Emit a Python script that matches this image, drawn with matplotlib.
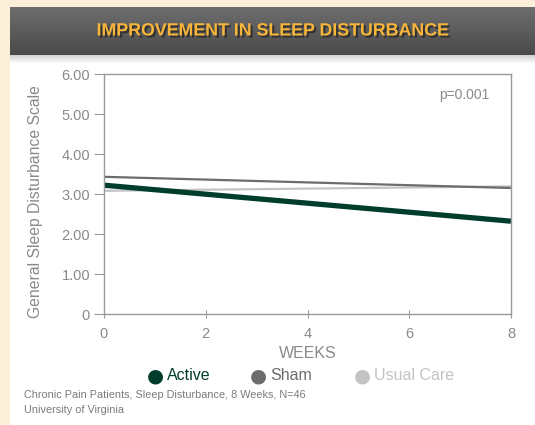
import matplotlib
matplotlib.use("Agg")
import matplotlib.pyplot as plt
import matplotlib.patheffects as pe
import numpy as np

# data
weeks = [0, 8]
active = [3.22, 2.32]
sham = [3.43, 3.15]
usual_care = [3.08, 3.19]

series_names = ["Active", "Sham", "Usual Care"]
series_colors = ["#013d2c", "#6c6c6e", "#c3c3c5"]
series_widths = [3.8, 1.6, 1.6]

x_ticks = [0, 2, 4, 6, 8]
y_ticks = [0, 1, 2, 3, 4, 5, 6]
y_tick_labels = ["0", "1.00", "2.00", "3.00", "4.00", "5.00", "6.00"]

W, H = 535, 425
plt.rcParams['font.family'] = ['Liberation Sans Narrow', 'Liberation Sans', 'DejaVu Sans']

fig = plt.figure(figsize=(W / 100, H / 100), dpi=100)
fig.patch.set_facecolor("#fcefd9")


def px_rect(x0, y0, x1, y1):
    # convert pixel box (top-left origin) to figure fraction rect
    return [x0 / W, 1 - y1 / H, (x1 - x0) / W, (y1 - y0) / H]


# white panel
panel = fig.add_axes(px_rect(10, 7, W, H))
panel.set_facecolor("white")
panel.set_xticks([])
panel.set_yticks([])
for s in panel.spines.values():
    s.set_visible(False)

# shadow under banner
shadow = fig.add_axes(px_rect(10, 55, W, 64))
grad_s = np.linspace(0.82, 1.0, 20).reshape(-1, 1)
shadow.imshow(grad_s, aspect="auto", cmap="gray", vmin=0, vmax=1, extent=[0, 1, 0, 1])
shadow.axis("off")

# dark banner with gradient
banner = fig.add_axes(px_rect(10, 7, W, 55))
grad = np.linspace(0.43, 0.29, 50).reshape(-1, 1)
banner.imshow(grad, aspect="auto", cmap="gray", vmin=0, vmax=1, extent=[0, 1, 0, 1])
banner.axis("off")
banner.text((272 - 10) / (W - 10), 0.5, "IMPROVEMENT IN SLEEP DISTURBANCE", color="#f7b53a",
            fontsize=12.8, fontweight="bold", ha="center", va="center",
            transform=banner.transAxes,
            path_effects=[pe.withSimplePatchShadow(offset=(1.5, -1.5),
                                                   shadow_rgbFace="#222222", alpha=0.7)])

# main chart
ax = fig.add_axes(px_rect(104, 74, 511, 314))
ys = [active, sham, usual_care]
for name, vals, c, lw in reversed(list(zip(series_names, ys, series_colors, series_widths))):
    ax.plot(weeks, vals, color=c, lw=lw, solid_capstyle="butt", label=name)

ax.set_xlim(0, 8)
ax.set_ylim(0, 6)
ax.set_xticks(x_ticks)
ax.set_yticks(y_ticks)
ax.set_yticklabels(y_tick_labels)
for s in ax.spines.values():
    s.set_color("#9a9a9a")
    s.set_linewidth(1.0)
ax.tick_params(axis="y", direction="out", length=7, color="#9a9a9a",
               labelcolor="#8a8a8a", labelsize=10.5, pad=3)
ax.tick_params(axis="x", direction="inout", length=6, color="#9a9a9a",
               labelcolor="#8a8a8a", labelsize=10.5, pad=6)
ax.set_xlabel("WEEKS", color="#8a8a8a", fontsize=11.5, labelpad=4)
ax.set_ylabel("General Sleep Disturbance Scale", color="#8a8a8a", fontsize=11.3)
ax.yaxis.set_label_coords(-0.15, 0.467)
ax.text(0.948, 0.912, "p=0.001", transform=ax.transAxes, ha="right", va="center",
        color="#8a8a8a", fontsize=10)

# legend
leg_x = [155, 258, 362]
for name, c, lx in zip(series_names, series_colors, leg_x):
    fig.text(lx / W, 1 - 376 / H, "\u25CF", color=c, fontsize=14, ha="center", va="center",
             family="DejaVu Sans")
    fig.text((lx + 12) / W, 1 - 376 / H, name, color=c, fontsize=11.5, ha="left", va="center")

fig.text(24 / W, 1 - 395 / H, "Chronic Pain Patients, Sleep Disturbance, 8 Weeks, N=46",
         color="#7a7a7a", fontsize=7.8, ha="left", va="center")
fig.text(24 / W, 1 - 410 / H, "University of Virginia",
         color="#7a7a7a", fontsize=7.8, ha="left", va="center")

fig.savefig("out.png", dpi=100, facecolor=fig.get_facecolor())
